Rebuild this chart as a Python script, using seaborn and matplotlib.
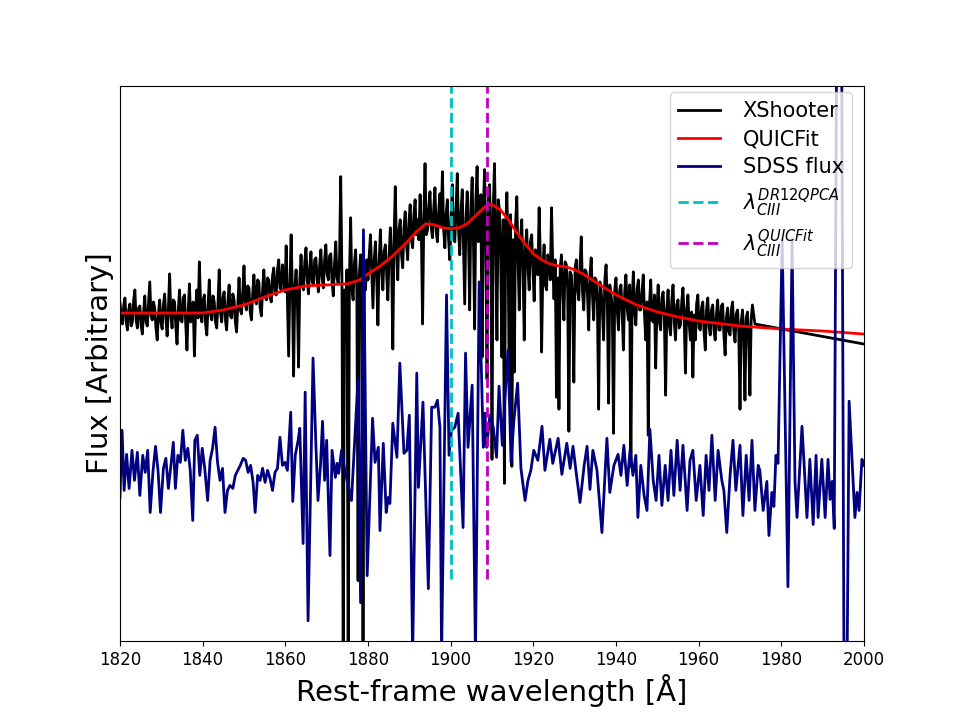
import numpy as np
import matplotlib
matplotlib.use("Agg")
import matplotlib.pyplot as plt
import seaborn as sns

# XShooter spectrum (arbitrary flux units), regular grid from 1820 A
xs_start = 1820.0
xs_step = 0.3
xs_flux = [
    338, 322, 316, 334, 342, 318, 310, 330, 336, 314, 318, 340, 350, 320, 312, 332, 334, 315, 306, 328,
    344, 318, 314, 336, 358, 324, 320, 338, 332, 312, 300, 326, 340, 318, 311, 335, 346, 322, 304, 330,
    366, 325, 312, 340, 338, 314, 296, 330, 350, 320, 318, 342, 345, 316, 290, 328, 356, 318, 322, 338,
    284, 330, 350, 322, 378, 336, 318, 340, 345, 316, 305, 334, 360, 326, 320, 344, 338, 318, 312, 336,
    370, 328, 318, 342, 348, 320, 310, 338, 355, 324, 322, 346, 340, 318, 308, 334, 362, 330, 326, 348,
    374, 336, 330, 354, 352, 328, 320, 346, 365, 340, 336, 360, 358, 332, 324, 350, 370, 344, 340, 362,
    360, 342, 338, 364, 372, 348, 345, 370, 380, 352, 350, 375, 366, 348, 394, 340, 284, 356, 405, 350,
    264, 352, 370, 340, 273, 360, 385, 356, 350, 378, 392, 360, 346, 372, 388, 358, 355, 380, 382, 360,
    348, 375, 390, 362, 352, 380, 395, 366, 360, 384, 386, 358, 344, 376, 398, 362, 356, 380, 463, 360,
    -30, 350, 300, 370, -30, 360, 422, 352, 340, 376, 390, 350, 60, 365, 385, 355, -30, 362, 350, 380,
    360, 385, 405, 368, 332, 380, 398, 362, 315, 378, 410, 370, 350, 388, 395, 366, 340, 384, 412, 380,
    291, 400, 453, 390, 360, 410, 420, 385, 372, 412, 428, 396, 380, 418, 435, 400, 392, 425, 440, 405,
    420, 400, 445, 410, 316, 420, 476, 405, 410, 432, 448, 412, 402, 430, 452, 408, 398, 428, 446, 415,
    468, 410, 392, 425, 440, 400, 380, 420, 455, 405, 398, 430, 466, 410, 385, 428, 450, 395, 336, 420,
    448, 405, 330, 432, 462, 400, 311, 440, 473, 398, 420, 445, 283, 430, 470, 390, 261, 438, 455, 410,
    181, 430, 476, 395, 300, 440, 430, 380, 283, 420, 157, 410, 447, 385, 240, 425, 174, 400, 268, 415,
    443, 380, 330, 402, 420, 368, 300, 395, 410, 372, 350, 398, 405, 370, 339, 390, 388, 365, 432, 380,
    288, 370, 395, 355, 350, 385, 380, 360, 432, 375, 341, 380, 243, 362, 231, 372, 385, 350, 320, 378,
    375, 352, 209, 368, 365, 340, 258, 372, 380, 350, 340, 375, 403, 348, 330, 370, 368, 345, 310, 365,
    382, 345, 320, 362, 360, 335, 231, 358, 350, 330, 300, 360, 375, 338, 237, 355, 345, 332, 207, 350,
    362, 330, 310, 350, 355, 325, 290, 348, 365, 332, 320, 355, 174, 340, 368, 328, 315, 350, 360, 330,
    330, 350, 365, 325, 300, 338, 205, 335, 360, 320, 318, 345, 272, 330, 355, 318, 310, 342, 348, 322,
    245, 330, 350, 315, 305, 340, 355, 318, 300, 335, 340, 312, 315, 338, 352, 320, 267, 330, 345, 316,
    300, 328, 263, 325, 300, 336, 345, 312, 310, 332, 338, 308, 290, 330, 342, 314, 305, 330, 335, 310,
    300, 325, 340, 310, 310, 334, 336, 305, 285, 322, 332, 308, 305, 330, 338, 310, 298, 326, 330, 308,
    231, 318, 330, 305, 240, 322, 328, 300, 245, 320, 335,
]
xs_tail_wave = [1973.6, 2000.0]
xs_tail_flux = [316, 296]

# QUICFit model
fit_wave = [1820, 1830, 1840, 1845, 1850, 1855, 1860, 1865, 1870, 1875, 1878,
            1880, 1883, 1886, 1889, 1892, 1894, 1896, 1898, 1900, 1902, 1904,
            1906, 1908, 1909, 1910, 1912, 1914, 1916, 1918, 1920, 1922, 1924,
            1926, 1928, 1930, 1932, 1935, 1940, 1945, 1950, 1955, 1960, 1970,
            1980, 1990, 2000]
fit_flux = [327, 327, 327, 330, 335, 343, 350, 354, 355, 356, 360,
            366, 374, 384, 396, 409, 416, 415, 412, 411, 412, 416,
            424, 432, 435, 435, 430, 420, 407, 396, 386, 380, 376,
            374, 373, 370, 366, 358, 345, 335, 328, 323, 319, 314,
            311, 309, 306]

# SDSS spectrum
sdss_wave = [
    1820.0, 1820.5, 1821.0, 1821.6, 1822.2, 1822.9, 1823.5, 1824.2, 1824.8, 1825.5,
    1826.1, 1826.7, 1827.3, 1828.0, 1828.6, 1829.2, 1829.8, 1830.5, 1831.1, 1831.7,
    1832.4, 1832.9, 1833.4, 1834.0, 1834.6, 1835.2, 1835.8, 1836.4, 1837.0, 1837.6,
    1838.1, 1838.7, 1839.3, 1839.9, 1840.5, 1841.2, 1841.8, 1842.4, 1843.0, 1843.6,
    1844.2, 1844.8, 1845.4, 1846.0, 1846.6, 1847.3, 1847.9, 1848.5, 1849.1, 1849.8,
    1850.4, 1851.0, 1851.6, 1852.2, 1852.7, 1853.3, 1853.9, 1854.5, 1855.1, 1855.7,
    1856.3, 1856.9, 1857.5, 1858.1, 1858.7, 1859.3, 1859.9, 1860.5, 1861.3, 1861.8,
    1862.4, 1863.1, 1863.5, 1864.3, 1864.8, 1865.5, 1866.7, 1867.4, 1867.9, 1868.5,
    1869.0, 1869.5, 1870.0, 1870.8, 1871.3, 1872.1, 1872.5, 1872.9, 1873.6, 1874.4,
    1876.0, 1877.6, 1878.2, 1878.9, 1879.8, 1881.1, 1881.7, 1882.5, 1882.9, 1883.7,
    1884.4, 1884.9, 1885.3, 1886.0, 1887.0, 1887.7, 1888.7, 1889.4, 1890.0, 1890.8,
    1891.8, 1892.2, 1892.8, 1893.3, 1894.6, 1895.4, 1896.2, 1896.8, 1897.4, 1897.8,
    1899.0, 1899.6, 1900.2, 1901.0, 1901.8, 1903.0, 1903.6, 1904.2, 1905.2, 1906.0,
    1906.9, 1907.9, 1908.3, 1908.7, 1909.5, 1910.3, 1911.1, 1911.7, 1912.5, 1913.1,
    1913.9, 1914.6, 1915.3, 1916.2, 1917.0, 1918.0, 1918.7, 1919.4, 1920.1, 1921.1,
    1922.1, 1922.8, 1924.0, 1924.7, 1926.0, 1926.9, 1928.1, 1928.9, 1929.6, 1930.3,
    1931.3, 1932.3, 1933.0, 1933.7, 1934.4, 1935.4, 1936.6, 1937.8, 1938.5, 1939.5,
    1940.5, 1941.2, 1941.9, 1942.7, 1943.4, 1944.1, 1944.8, 1945.3, 1946.0, 1946.8,
    1947.5, 1948.2, 1949.0, 1949.7, 1950.4, 1951.1, 1951.9, 1952.6, 1953.3, 1954.0,
    1954.8, 1955.5, 1956.2, 1957.2, 1957.9, 1958.6, 1959.4, 1960.3, 1961.1, 1961.8,
    1962.5, 1963.2, 1964.0, 1964.7, 1965.6, 1966.1, 1966.8, 1967.6, 1968.3, 1969.0,
    1970.0, 1970.7, 1971.5, 1972.2, 1972.9, 1973.6, 1974.4, 1974.8, 1975.6, 1976.5,
    1977.0, 1977.7, 1978.2, 1978.7, 1979.2, 1980.2, 1981.6, 1982.6, 1983.3, 1983.8,
    1985.0, 1985.5, 1986.2, 1986.9, 1987.7, 1988.4, 1988.9, 1989.8, 1990.6, 1991.3,
    1991.8, 1992.3, 1992.8, 1993.5, 1994.5, 1995.4, 1996.4, 1997.8, 1998.3, 1998.8,
    1999.5, 2000.0,
]
sdss_flux = [
    143, 210, 150, 186, 152, 190, 160, 188, 145, 185,
    168, 190, 128, 170, 194, 170, 128, 172, 182, 152,
    178, 198, 152, 185, 178, 210, 180, 192, 170, 120,
    200, 205, 165, 192, 172, 140, 180, 192, 213, 178,
    160, 172, 128, 150, 155, 152, 165, 170, 175, 182,
    180, 168, 175, 158, 128, 165, 160, 172, 158, 170,
    162, 150, 168, 172, 203, 175, 178, 170, 228, 139,
    185, 200, 212, 97, 248, 20, 282, 195, 140, 175,
    219, 160, 200, 85, 190, 163, 177, 167, 190, 170,
    140, 262, 38, 410, 65, 222, 178, 193, 110, 197,
    128, 143, 137, 217, 183, 277, 187, 190, 225, -15,
    267, 153, 200, 238, 52, 233, 233, 240, 213, -15,
    345, 185, 210, 213, 227, 113, 287, 193, 255, -15,
    358, 193, 227, 193, 225, 213, 183, 254, 195, 240,
    290, 178, 220, 257, 172, 140, 160, 170, 190, 180,
    214, 170, 201, 177, 202, 166, 197, 172, 194, 170,
    138, 175, 194, 151, 190, 170, 108, 202, 148, 175,
    186, 165, 195, 155, 190, 165, 185, 123, 175, 145,
    130, 211, 160, 140, 185, 135, 175, 140, 190, 145,
    200, 150, 195, 130, 180, 190, 140, 175, 125, 185,
    150, 205, 140, 190, 160, 150, 108, 165, 200, 150,
    195, 125, 185, 140, 200, 130, 175, 170, 130, 159,
    105, 148, 134, 185, 177, 400, 54, 400, 159, 123,
    214, 177, 123, 181, 116, 185, 123, 181, 123, 181,
    141, 159, 112, 700, 700, -300, 239, 123, 148, 130,
    181, 175,
]

# C III] line centres
lam_pca = 1900.1
lam_fit = 1908.8

xs_wave = np.concatenate([xs_start + xs_step * np.arange(len(xs_flux)), xs_tail_wave])
xs_all = np.concatenate([xs_flux, xs_tail_flux])

fig, ax = plt.subplots(figsize=(9.6, 7.2), dpi=100)

sns.lineplot(x=xs_wave, y=xs_all, color='k', lw=2, label='XShooter',
             estimator=None, sort=False, ax=ax)
sns.lineplot(x=fit_wave, y=fit_flux, color='r', lw=2, label='QUICFit',
             estimator=None, sort=False, ax=ax)
sns.lineplot(x=sdss_wave, y=sdss_flux, color='navy', lw=2, label='SDSS flux',
             estimator=None, sort=False, ax=ax)
ax.axvline(lam_pca, ymin=0.112, ymax=1, color='c', ls='--', lw=2,
           label=r'$\lambda_{CIII}^{DR12QPCA}$')
ax.axvline(lam_fit, ymin=0.112, ymax=1, color='m', ls='--', lw=2,
           label=r'$\lambda_{CIII}^{QUICFit}$')

ax.set_xlim(1820, 2000)
ax.set_ylim(0, 553)
ax.set_xticks(np.arange(1820, 2001, 20))
ax.set_yticks([])
ax.tick_params(axis='x', labelsize=12)
ax.set_xlabel('Rest-frame wavelength [Å]', fontsize=21)
ax.set_ylabel('Flux [Arbitrary]', fontsize=21)
ax.legend(loc='upper right', bbox_to_anchor=(0.984, 0.989), borderaxespad=0,
          fontsize=15, labelspacing=0.4, handletextpad=1.1)

fig.savefig('out.png', dpi=100)
